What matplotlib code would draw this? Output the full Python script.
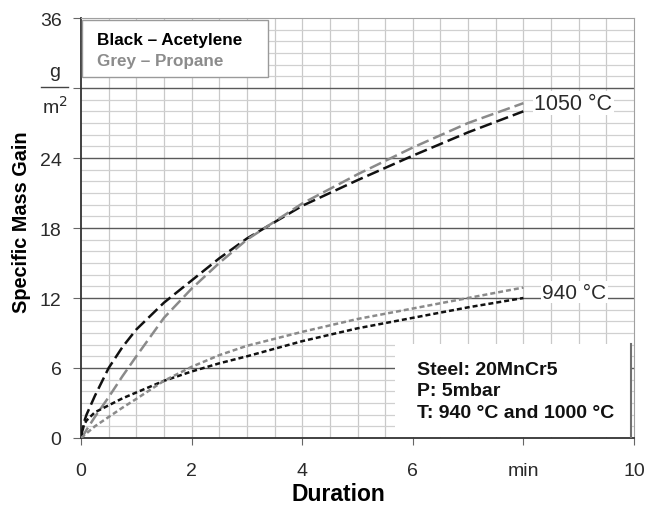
import numpy as np
import matplotlib
matplotlib.use('Agg')
import matplotlib.pyplot as plt
from matplotlib.patches import Rectangle
from matplotlib.lines import Line2D

plt.rcParams['font.family'] = ['Liberation Sans', 'DejaVu Sans']

# duration in min
time = [0, 0.05, 0.1, 0.25, 0.5, 0.75, 1, 1.5, 2, 2.5, 3, 4, 5, 6, 7, 8]

# specific mass gain in g/m2
acetylene1050 = [0, 1.3, 2.0, 3.6, 6.0, 7.8, 9.3, 11.6, 13.5, 15.4, 17.1, 19.9, 22.1, 24.2, 26.2, 28.0]
propane1050 = [0, 0.3, 0.7, 1.8, 3.5, 5.3, 7.0, 10.3, 12.8, 15.0, 17.0, 20.1, 22.6, 24.9, 27.0, 28.7]
acetylene940 = [0, 1.1, 1.5, 2.2, 2.8, 3.4, 3.9, 4.9, 5.7, 6.4, 7.0, 8.3, 9.4, 10.3, 11.2, 12.0]
propane940 = [0, 0.2, 0.4, 1.0, 1.8, 2.6, 3.35, 4.9, 6.1, 7.1, 7.9, 9.1, 10.2, 11.1, 12.0, 12.9]

xTicks = [0, 2, 4, 6, 8, 10]
xTickLabels = ['0', '2', '4', '6', 'min', '10']
yTicks = [0, 6, 12, 18, 24, 30, 36]
yTickLabels = ['0', '6', '12', '18', '24', '', '36']

black = '#111111'
grey = '#8a8a8a'
textColor = '#2a2a2a'

fig = plt.figure(figsize=(6.47, 5.06), dpi=100)
ax = fig.add_axes([81 / 647, 1 - 439 / 506, 553 / 647, 420 / 506])
ax.set_xlim(0, 10)
ax.set_ylim(0, 36)

# grid
for x in np.arange(0.5, 10, 0.5):
    ax.axvline(x, color='#c9c9c9', lw=0.9, zorder=0)
for y in range(1, 36):
    if y % 6 == 0:
        ax.axhline(y, color='#5a5a5a', lw=1.0, zorder=0)
    else:
        ax.axhline(y, color='#d0d0d0', lw=0.9, zorder=0)

ax.plot(time, acetylene1050, color=black, lw=1.8, dashes=(5, 2), zorder=3)
ax.plot(time, propane1050, color=grey, lw=1.8, dashes=(5, 2), zorder=3)
ax.plot(time, acetylene940, color=black, lw=1.8, dashes=(2, 1.2), zorder=3)
ax.plot(time, propane940, color=grey, lw=1.8, dashes=(2, 1.2), zorder=3)

bbox = dict(facecolor='white', edgecolor='none', pad=1)
ax.text(8.2, 28.7, '1050 °C', fontsize=15.5, va='center', ha='left',
        color=textColor, bbox=bbox, zorder=4)
ax.text(8.34, 12.5, '940 °C', fontsize=15, va='center', ha='left',
        color=textColor, bbox=bbox, zorder=4)

# legend box
ax.add_patch(Rectangle((0.02, 30.95), 3.36, 4.85, facecolor='white',
                       edgecolor='#9a9a9a', lw=1.0, zorder=5))
ax.text(0.29, 34.2, 'Black – Acetylene', fontsize=12.3, fontweight='bold',
        color='black', va='center', zorder=6)
ax.text(0.29, 32.4, 'Grey – Propane', fontsize=12.3, fontweight='bold',
        color='#8c8c8c', va='center', zorder=6)

# info box
ax.add_patch(Rectangle((5.68, 0.1), 4.28, 7.95, facecolor='white',
                       edgecolor='none', zorder=5))
ax.plot([9.95, 9.95], [0.1, 8.05], color='#707070', lw=1.5, zorder=6)
infoLines = ['Steel: 20MnCr5', 'P: 5mbar', 'T: 940 °C and 1000 °C']
for i, line in enumerate(infoLines):
    ax.text(6.08, 5.9 - i * 1.85, line, fontsize=14, fontweight='bold',
            color='#111111', va='center', zorder=6)

# axes styling
for side in ['top', 'right']:
    ax.spines[side].set_color('#a0a0a0')
for side in ['left', 'bottom']:
    ax.spines[side].set_color('#333333')
    ax.spines[side].set_linewidth(1.3)

ax.set_xticks(xTicks)
ax.set_xticklabels(xTickLabels)
ax.set_yticks(yTicks)
ax.set_yticklabels(yTickLabels)
ax.tick_params(axis='x', length=5, color='#666666', pad=12, labelsize=14,
               labelcolor=textColor)
ax.tick_params(axis='y', length=6, color='#666666', pad=8, labelsize=14,
               labelcolor=textColor)

# unit label g/m2 at y = 30
ax.text(-0.48, 30.7, 'g', fontsize=14, ha='center', va='bottom',
        color=textColor, clip_on=False)
ax.text(-0.48, 29.4, 'm$^2$', fontsize=14, ha='center', va='top',
        color=textColor, clip_on=False)
fig.add_artist(Line2D([41 / 647, 68 / 647], [1 - 88 / 506, 1 - 88 / 506],
                      color='#444444', lw=1.0))

fig.text(22 / 647, 1 - 222 / 506, 'Specific Mass Gain', rotation=90,
         fontsize=14.3, fontweight='bold', ha='center', va='center')
fig.text(338 / 647, 1 - 495 / 506, 'Duration', fontsize=16.5,
         fontweight='bold', ha='center', va='center')

fig.savefig('out.png', dpi=100)
